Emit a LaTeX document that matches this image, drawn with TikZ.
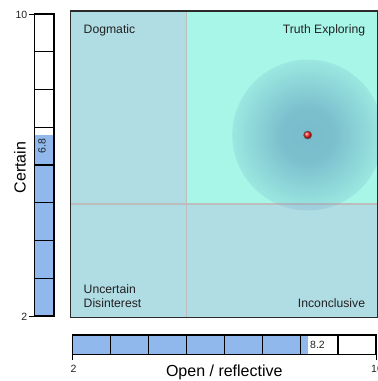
\documentclass[tikz,border=0pt]{standalone}
\usepackage{fontspec}
\setmainfont{Liberation Sans}
\usetikzlibrary{fadings}
\definecolor{qblue}{HTML}{B0DCE4}
\definecolor{qaqua}{HTML}{A8F6E8}
\definecolor{barblue}{HTML}{90B8EC}
\definecolor{halo}{HTML}{5F9CBD}
\definecolor{divgray}{HTML}{BDBDBD}
\definecolor{frame}{HTML}{2A2A2A}
\definecolor{txt}{HTML}{222222}
\pgfdeclareradialshading{halosh}{\pgfpointorigin}{color(0bp)=(pgftransparent!36); color(9bp)=(pgftransparent!40); color(25bp)=(pgftransparent!84); color(25.4bp)=(pgftransparent!100); color(50bp)=(pgftransparent!100)}
\pgfdeclarefading{halofade}{\pgfuseshading{halosh}}
\tikzset{
  qlabel/.style={font=\fontsize{12.2}{14}\selectfont, text=txt, inner sep=0pt},
  axlabel/.style={font=\fontsize{16}{18}\selectfont, text=black, inner sep=0pt},
  ticklabel/.style={font=\fontsize{10.5}{12}\selectfont, text=txt, inner sep=0pt},
  vallabel/.style={font=\fontsize{10.5}{12}\selectfont, text=txt, inner sep=0pt},
  barline/.style={draw=black, line width=1.2pt},
  tickline/.style={draw=black, line width=1pt},
}
\begin{document}
\begin{tikzpicture}[x=1pt,y=-1pt]
\useasboundingbox (0,0) rectangle (378,381);
% quadrants
\fill[qblue] (70.5,11) rectangle (186.7,317.5);
\fill[qaqua] (186.7,11) rectangle (377.3,204);
\fill[qblue] (186.7,204) rectangle (377.3,317.5);
\draw[divgray, line width=1.3pt] (186.7,11) -- (186.7,317.5);
\draw[divgray, line width=1.3pt] (70.5,204) -- (377.3,204);
% halo and point
\coordinate (pt) at (307.7,135);
\fill[halo, path fading=halofade] (pt) circle (75.5);
\shade[ball color=red!90!white] (pt) circle (4);
\draw[gray!70!black, line width=0.6pt] (pt) circle (4);
% frame
\draw[frame, line width=1.6pt] (70.5,11) rectangle (377.3,317.5);
% quadrant labels
\node[qlabel, anchor=west] (dog) at (83.5,30.5) {Dogmatic};
\node[qlabel, anchor=east] (truth) at (365.3,30.5) {Truth Exploring};
\node[qlabel, anchor=west, align=left] (unc) at (83.5,296) {Uncertain\\Disinterest};
\node[qlabel, anchor=east] (inc) at (365.3,303.3) {Inconclusive};
% left bar
\fill[white] (34.3,14) rectangle (54,316);
\fill[barblue] (34.3,134.8) rectangle (54,316);
\foreach \k in {1,...,7}{\draw[barline] (34.3,{14+\k*37.75}) -- (54,{14+\k*37.75});}
\draw[barline] (34.3,14) rectangle (54,316);
\draw[tickline] (29,14) -- (34.3,14);
\draw[tickline] (29,316) -- (34.3,316);
\node[ticklabel, anchor=east] (ltop) at (27.5,14.5) {10};
\node[ticklabel, anchor=east] (lbot) at (27.5,317) {2};
\node[vallabel, rotate=90, anchor=east] (lval) at (42,138.5) {6.8};
\node[axlabel, rotate=90, anchor=base] (yax) at (25.5,167.5) {Certain};
% bottom bar
\fill[white] (72.7,335) rectangle (376,354.3);
\fill[barblue] (72.7,335) rectangle (307.5,354.3);
\foreach \k in {1,...,7}{\draw[barline] ({72.7+\k*37.91},335) -- ({72.7+\k*37.91},354.3);}
\draw[barline] (72.7,335) rectangle (376,354.3);
\draw[tickline] (72.7,354.3) -- (72.7,360);
\draw[tickline] (376,354.3) -- (376,360);
\node[ticklabel] (bl) at (73.5,368.5) {2};
\node[ticklabel, anchor=west] (br) at (371,368.5) {10};
\node[vallabel, anchor=west] (bval) at (310,344.8) {8.2};
\node[axlabel, anchor=base] (xax) at (224.3,376) {Open / reflective};
\end{tikzpicture}
\end{document}
